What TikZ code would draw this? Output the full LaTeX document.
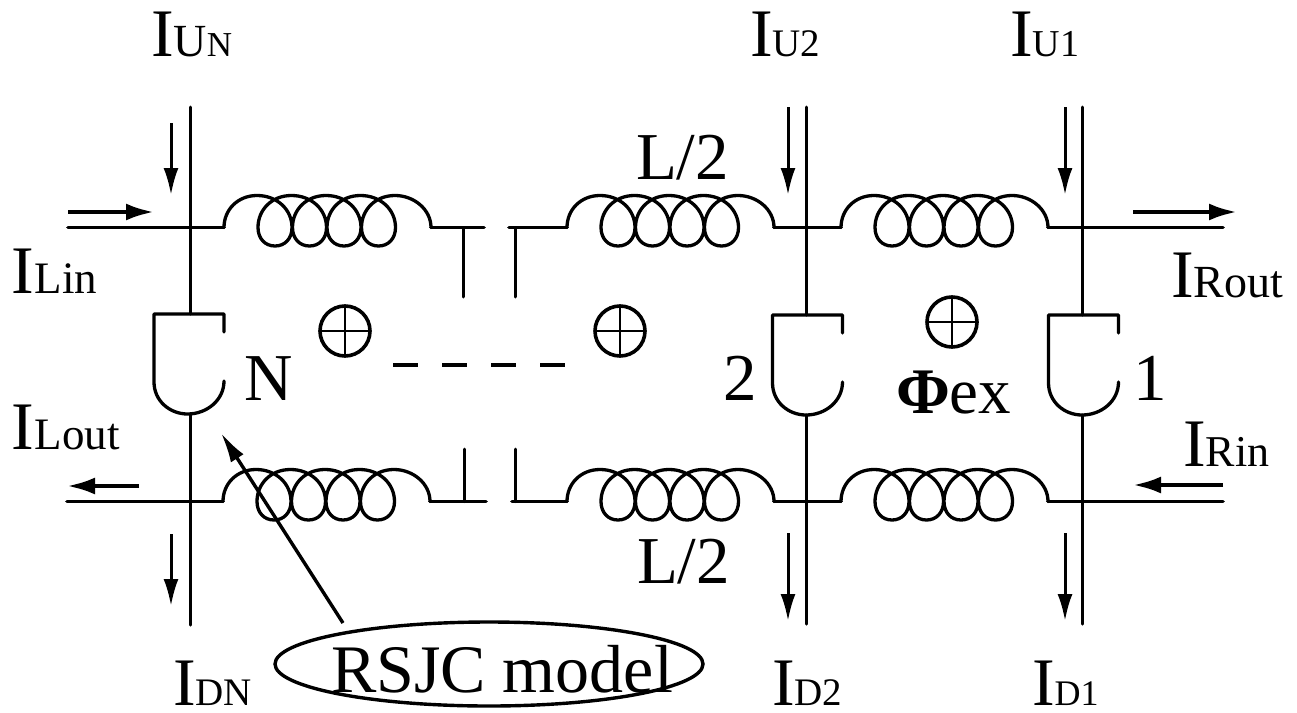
\documentclass[tikz,border=0pt]{standalone}
\usepackage{fontspec}
\setmainfont{Liberation Serif}
\usetikzlibrary{arrows.meta,shapes.geometric}
\newcommand\curlab[2][36]{{\fontsize{68}{68}\selectfont I}{\fontsize{#1}{#1}\selectfont #2}}
\tikzset{
  wire/.style={line width=3.7pt,line cap=round,line join=round},
  coilline/.style={line width=3.3pt,line cap=round,line join=round},
  thinwire/.style={line width=3pt,line cap=round},
  curarrow/.style={line width=3pt,-{Latex[length=27pt,width=15pt]}},
  harrow/.style={line width=4.2pt,-{Latex[length=28pt,width=17pt]}},
  lab/.style={anchor=base west,inner sep=0pt,outer sep=0pt,font=\fontsize{67}{67}\selectfont},
  fluxmark/.style={circle,draw,line width=3.6pt,minimum size=50pt,inner sep=0pt,
    path picture={\draw[line width=2.8pt] (path picture bounding box.north) -- (path picture bounding box.south)
      (path picture bounding box.west) -- (path picture bounding box.east);}},
  coil/.pic={
    \coordinate (-in) at (0,0);
    \coordinate (-out) at (207,0);
    \draw[coilline] (0,0) .. controls (0,-18) and (14,-32) .. (33,-32)
      .. controls (53,-32) and (68,-18) .. (68,0)
      .. controls (68,11) and (61,18.5) .. (51,18.5)
      .. controls (41,18.5) and (34,11) .. (34,0)
      .. controls (34,-18) and (48,-32) .. (67.5,-32)
      .. controls (87.5,-32) and (102.5,-18) .. (102.5,0)
      .. controls (102.5,11) and (95.5,18.5) .. (85.5,18.5)
      .. controls (75.5,18.5) and (68.5,11) .. (68.5,0)
      .. controls (68.5,-18) and (82.5,-32) .. (102,-32)
      .. controls (122,-32) and (137,-18) .. (137,0)
      .. controls (137,11) and (130,18.5) .. (120,18.5)
      .. controls (110,18.5) and (103,11) .. (103,0)
      .. controls (103,-18) and (117,-32) .. (136.5,-32)
      .. controls (156.5,-32) and (171.5,-18) .. (171.5,0)
      .. controls (171.5,11) and (164.5,18.5) .. (154.5,18.5)
      .. controls (144.5,18.5) and (137.5,11) .. (137.5,0)
      .. controls (137.5,-18) and (151.5,-32) .. (171,-32)
      .. controls (190,-32) and (207,-18) .. (207,0);
  },
  jj/.pic={
    \draw[coilline] (35,18) -- (35,0) -- (-35,0) -- (-35,68)
      .. controls (-35,87) and (-19,100) .. (-1.5,100)
      .. controls (18,100) and (35,86) .. (35,67);
  }
}
\begin{document}
\begin{tikzpicture}[x=1pt,y=-1pt]
\useasboundingbox (0,0) rectangle (1297,712);
% free ends
\coordinate (tl) at (68,227.5); \coordinate (tr) at (1223,227.5);
\coordinate (bl) at (67,501.5); \coordinate (br) at (1223,501.5);
\coordinate (tN) at (190,107); \coordinate (t2) at (806,107); \coordinate (t1) at (1082,107);
\coordinate (dN) at (190,625); \coordinate (d2) at (806,624); \coordinate (d1) at (1082,624);
\coordinate (jNt) at (190,314); \coordinate (j2t) at (806,315); \coordinate (j1t) at (1082,315);
\coordinate (jNb) at (190,414); \coordinate (j2b) at (806,415); \coordinate (j1b) at (1082,415);
\coordinate (stA) at (463,297); \coordinate (stB) at (515,297);
\coordinate (stC) at (464,449); \coordinate (stD) at (515,449);
\coordinate (gapA) at (484,227.5); \coordinate (gapB) at (509,227.5);
\coordinate (gapC) at (486,501.5); \coordinate (gapD) at (512,501.5);
\coordinate (stAt) at (463,227.5); \coordinate (stBt) at (515,227.5);
\coordinate (stCb) at (464,501.5); \coordinate (stDb) at (515,501.5);
% coils
\pic (c1) at (224,227.5) {coil};
\pic (c2) at (567,227.5) {coil};
\pic (c3) at (841,227.5) {coil};
\pic (c4) at (223,501.5) {coil};
\pic (c5) at (567,501.5) {coil};
\pic (c6) at (841,501.5) {coil};
% junctions
\pic at (189,314) {jj};
\pic at (807.5,315) {jj};
\pic at (1083.5,315) {jj};
% wires
\draw[wire] (tl) -- (c1-in);
\draw[wire] (c1-out) -- (gapA);
\draw[wire] (gapB) -- (c2-in);
\draw[wire] (c2-out) -- (c3-in);
\draw[wire] (c3-out) -- (tr);
\draw[wire] (bl) -- (c4-in);
\draw[wire] (c4-out) -- (gapC);
\draw[wire] (gapD) -- (c5-in);
\draw[wire] (c5-out) -- (c6-in);
\draw[wire] (c6-out) -- (br);
\draw[thinwire] (tN) -- (jNt);
\draw[thinwire] (t2) -- (j2t);
\draw[thinwire] (t1) -- (j1t);
\draw[thinwire] (jNb) -- (dN);
\draw[thinwire] (j2b) -- (d2);
\draw[thinwire] (j1b) -- (d1);
\draw[thinwire] (stAt) -- (stA);
\draw[thinwire] (stBt) -- (stB);
\draw[thinwire] (stC) -- (stCb);
\draw[thinwire] (stD) -- (stDb);
% current arrows
\coordinate (aU1s) at (171,123); \coordinate (aU1e) at (171,195);
\coordinate (aU2s) at (788,107); \coordinate (aU2e) at (788,195);
\coordinate (aU3s) at (1065,107); \coordinate (aU3e) at (1065,195);
\coordinate (aD1s) at (171,534); \coordinate (aD1e) at (171,606);
\coordinate (aD2s) at (788,533); \coordinate (aD2e) at (788,621);
\coordinate (aD3s) at (1065,533); \coordinate (aD3e) at (1065,621);
\draw[curarrow] (aU1s) -- (aU1e);
\draw[curarrow] (aU2s) -- (aU2e);
\draw[curarrow] (aU3s) -- (aU3e);
\draw[curarrow] (aD1s) -- (aD1e);
\draw[curarrow] (aD2s) -- (aD2e);
\draw[curarrow] (aD3s) -- (aD3e);
\coordinate (hLis) at (68,212); \coordinate (hLie) at (154,212);
\coordinate (hLos) at (139,486); \coordinate (hLoe) at (67,486);
\coordinate (hRos) at (1133,212); \coordinate (hRoe) at (1237,212);
\coordinate (hRis) at (1223,485); \coordinate (hRie) at (1133,485);
\draw[harrow] (hLis) -- (hLie);
\draw[harrow] (hLos) -- (hLoe);
\draw[harrow] (hRos) -- (hRoe);
\draw[harrow] (hRis) -- (hRie);
% flux marks
\node[fluxmark] (f1) at (345,331) {};
\node[fluxmark] (f2) at (620,331) {};
\node[fluxmark] (f3) at (952,322) {};
\coordinate (dsA) at (393,365); \coordinate (dsB) at (566,365);
\draw[line width=3.4pt,dash pattern=on 25pt off 24pt] (dsA) -- (dsB);
% labels
\node[lab] (iUN) at (151,56) {\curlab{{\fontsize{46}{46}\selectfont U}{\fontsize{35}{35}\selectfont N}}};
\node[lab] (iU2) at (750,56) {\curlab[39]{U2}};
\node[lab] (iU1) at (1010,56) {\curlab[38]{U1}};
\node[lab] (iLin) at (12,293) {\curlab[45]{Lin}};
\node[lab] (iLout) at (12,449) {\curlab[45]{Lout}};
\node[lab] (iRout) at (1171,297) {\curlab[46]{Rout}};
\node[lab] (iRin) at (1183,466) {\curlab[44]{Rin}};
\node[lab] (iDN) at (173,705) {\curlab[39]{DN}};
\node[lab] (iD2) at (772,705) {\curlab[39]{D2}};
\node[lab] (iD1) at (1032,705) {\curlab{D1}};
\node[lab] (Ltop) at (636,179) {L/2};
\node[lab] (Lbot) at (637,583) {L/2};
\node[lab] (nN) at (244,400) {N};
\node[lab] (n2) at (723,400) {2};
\node[lab] (n1) at (1133,400) {1};
\node[lab,font=\fontsize{65}{65}\selectfont] (phi) at (896,413) {\textbf{Φ}ex};
% RSJC callout
\node[ellipse,draw,line width=3.4pt,minimum width=428pt,minimum height=84pt,inner sep=0pt] (rsjc) at (489,664) {};
\node[lab,font=\fontsize{68}{68}\selectfont] (rsjct) at (331,692) {RSJC model};
\coordinate (ptS) at (343,623); \coordinate (ptE) at (221,433);
\draw[line width=3.4pt,-{Latex[length=30pt,width=15pt]}] (ptS) -- (ptE);
\end{tikzpicture}
\end{document}
